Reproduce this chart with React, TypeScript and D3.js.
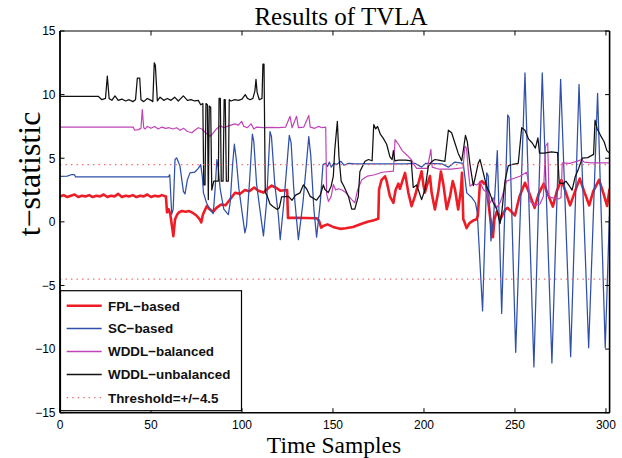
import React from 'react';
import * as d3 from 'd3';

type P = [number, number];

const titleText = 'Results of TVLA';
const xLabel = 'Time Samples';
const yLabel = 't\u2212statistic';
const xTicks = [0, 50, 100, 150, 200, 250, 300];
const yTicks = [-15, -10, -5, 0, 5, 10, 15];
const thresholdValues = [4.5, -4.5];
const legendNames = ['FPL\u2212based', 'SC\u2212based', 'WDDL\u2212balanced', 'WDDL\u2212unbalanced', 'Threshold=+/\u22124.5'];

const fplBased: P[] = [
  [0,2.0],[2,2.1],[4,1.95],[6,2.05],[8,2.15],[10,1.95],[12,2.05],[14,2.0],[16,2.1],[18,1.95],[20,2.05],[22,2.0],[24,2.15],[26,1.95],[28,2.05],[30,2.0],[32,2.2],[34,1.95],[36,2.05],[38,2.0],[40,2.1],[42,1.95],[44,2.05],[46,2.0],[48,2.15],[50,1.95],[52,2.05],[54,2.0],[56,2.1],[58.2,2.0],[58.8,0.75],[59.7,1.0],[60.6,0.6],[61.5,-0.3],[62.3,-1.13],[63.2,0.2],[64.5,0.6],[65.4,0.75],[67,0.85],[69,0.8],[71,0.85],[73,0.7],[75,0.5],[76.9,0.18],[77.6,-0.05],[78.6,0.6],[80.6,1.23],[82.4,0.97],[84.2,0.8],[86,1.1],[88.5,1.36],[91,1.3],[93.4,1.75],[96.2,2.28],[99,2.2],[101.6,2.5],[104,2.4],[106.7,2.7],[109,2.45],[111.8,2.3],[114,2.6],[116.3,2.85],[118.5,2.7],[121,2.45],[124.8,2.5],[125.3,0.31],[130,0.31],[135,0.3],[141,0.28],[142.3,0.1],[143.5,-0.45],[145,-0.3],[147,-0.2],[150,-0.4],[153.9,-0.55],[157,-0.5],[161,-0.4],[165.8,-0.15],[169,0.0],[172,0.1],[174.9,0.25],[175.3,2.54],[176.7,3.3],[178.6,3.58],[179.5,3.2],[181.3,2.0],[183.2,1.5],[184.4,2.5],[185.9,3.0],[186.8,2.6],[187.7,3.0],[189.6,3.85],[191.4,2.3],[193.2,1.23],[195,2.0],[196.9,3.0],[198.7,3.98],[199.6,3.0],[200.5,2.3],[201.5,2.8],[203.3,3.6],[204.2,2.3],[206,0.97],[207.9,2.4],[209.3,3.95],[210.6,3.0],[212.5,1.0],[214.3,2.0],[215.8,3.2],[217,2.6],[218.8,0.97],[220.3,2.5],[220.9,3.85],[221.6,0.2],[222.5,-0.1],[223.4,-0.5],[225,-0.1],[227,0.1],[228.9,0.2],[229.6,0.5],[230.8,3.1],[232,3.2],[233,3.0],[234,3.1],[235,2.0],[236.3,0.44],[237.1,-0.3],[237.9,-1.2],[238.7,0.2],[240,0.8],[241,0.6],[242,0.2],[243,0.5],[244.7,0.97],[246,1.1],[248,0.8],[250,0.5],[252.5,2.0],[255.5,3.07],[258,2.2],[260.8,1.1],[263,2.2],[265.8,3.0],[268,2.2],[270.8,1.2],[273,2.4],[275.5,3.3],[278,2.3],[280.3,1.3],[283,2.4],[285.6,3.4],[288,2.4],[290.8,1.3],[293,2.4],[296.2,3.3],[298.5,2.3],[300.6,1.25],[302,2.6]
];

const scBased: P[] = [
  [0,3.58],[4,3.6],[6.5,3.72],[7.8,3.72],[8.6,3.53],[20,3.53],[40,3.53],[59.5,3.53],[60.3,3.7],[61.4,0.6],[62.2,1.0],[63.2,4.9],[64.1,5.03],[65.9,4.4],[67.8,2.4],[68.7,2.2],[70,3.3],[71.4,3.85],[74,3.9],[76,4.2],[77.3,4.5],[78.2,3.6],[78.8,2.3],[80.5,1.5],[82.4,0.97],[84.2,0.65],[85.2,2.5],[86.2,4.9],[87,4.2],[88,2.6],[90,1.0],[92.5,0.57],[93.5,1.5],[94.9,4.6],[95.8,6.1],[96.8,5.0],[98.3,2.6],[100,0.8],[101.6,-0.87],[102.5,-0.3],[104.3,3.5],[105.7,6.9],[106.5,6.3],[108,3.0],[110,0.8],[111.8,-1.1],[113.5,1.5],[115.4,7.1],[116.2,6.7],[118,3.0],[120,0.5],[121,-1.4],[123,1.5],[126,6.8],[127,6.2],[128.5,2.5],[131,-1.4],[133.5,1.5],[136.7,6.7],[137.8,5.2],[139.5,1.0],[141,-1.2],[143,1.5],[144.5,4.5],[146,4.6],[147,4.35],[148,4.7],[149,4.3],[150.5,4.6],[152,4.5],[154.4,4.76],[156,4.45],[158.6,4.6],[162,4.55],[175,4.56],[190,4.55],[195,4.6],[198.7,4.3],[201,4.6],[210,4.55],[213.4,4.3],[217,4.7],[221.6,4.6],[222.5,3.5],[223.5,2.28],[226.4,1.89],[228.3,1.5],[229.3,0.7],[232.2,-7.0],[234.5,3.85],[235.3,3.6],[236.8,-1.5],[238.3,0.5],[240.3,5.6],[242.7,-7.2],[246,8.4],[246.8,8.2],[250.4,-10.25],[255.5,11.7],[260.4,-11.4],[265,11.7],[270.3,-11.1],[275.1,11.2],[280.6,-10.6],[285.2,10.8],[290.5,-9.9],[295.4,10.1],[299.6,-9.9],[301.9,0.5]
];

const wddlBalanced: P[] = [
  [0,7.44],[20,7.44],[40.3,7.44],[41,7.2],[43,7.25],[44.5,7.35],[45.2,8.83],[46,7.4],[46.8,7.3],[48,7.5],[50,7.35],[52,7.5],[54,7.3],[56,7.45],[58,7.35],[60,7.4],[62,7.3],[64,7.4],[66,7.2],[68,7.35],[70,7.1],[72.5,7.0],[74,7.2],[76,7.4],[78,7.3],[80,7.0],[82.4,6.73],[84,6.95],[86,7.3],[88,7.55],[90,7.4],[92,7.5],[94,7.6],[96,7.7],[98,7.6],[99.8,7.9],[101,7.5],[103,7.4],[105,7.7],[106.5,7.3],[108,7.45],[112,7.4],[116,7.42],[120,7.4],[124,7.45],[126.4,8.3],[127.5,7.4],[130,8.3],[131,7.4],[134,7.45],[136.7,8.36],[137.5,7.44],[140,7.35],[142,7.5],[144,7.4],[146,7.45],[146.5,2.2],[147.5,1.6],[149,2.0],[150.2,2.93],[151.5,2.5],[153,2.6],[155,2.5],[157,2.3],[160.3,1.75],[162,1.5],[163.5,2.5],[165.8,3.3],[169,3.6],[173,3.7],[177,3.9],[183.2,3.98],[184.1,6.47],[186,6.1],[188,5.6],[191,5.2],[193,4.9],[194.5,4.5],[196,4.2],[201.9,4.2],[203.8,5.7],[204.5,4.3],[208,4.15],[215,4.15],[221.5,4.25],[222.5,5.94],[223.4,5.8],[224.3,4.1],[225.3,2.8],[227,3.0],[228.9,2.9],[231,3.1],[232.6,2.54],[234.5,2.3],[236.3,1.5],[238,1.9],[239.9,1.1],[241.8,1.5],[243,2.0],[245.4,3.2],[248,3.35],[252.7,3.58],[256.4,3.9],[257.3,3.2],[258.2,1.62],[261,1.3],[263.7,1.4],[265.6,2.0],[266.8,5.94],[268,6.2],[268.7,2.0],[270.2,1.9],[273.8,1.8],[275.3,1.9],[276,4.64],[280,4.6],[284,4.75],[286.6,4.9],[288,4.7],[292,4.64],[302,4.64]
];

const wddlUnbalanced: P[] = [
  [0,9.87],[21,9.87],[23,9.6],[25,9.7],[26,11.45],[27,9.7],[28.5,9.55],[30.2,9.9],[32,9.55],[34,9.65],[36,9.5],[38,9.6],[40,9.45],[41.5,9.6],[42.5,11.3],[43.8,11.3],[44.5,9.6],[46,9.45],[48,9.7],[50,9.55],[51,9.45],[51.8,12.5],[52.4,12.3],[53.5,9.5],[55,9.8],[57,9.55],[59,9.7],[61,9.55],[63,9.8],[65,9.5],[67.8,9.9],[70,9.55],[72,9.6],[74,9.5],[76,9.55],[77.3,9.2],[78.5,9.3],[79,2.9],[79.7,2.9],[80.2,9.3],[81,9.2],[81.5,1.75],[82,9.1],[82.8,9.0],[83.4,2.5],[84.5,3.2],[87,3.2],[87.4,9.7],[88.1,9.7],[88.6,3.2],[89.6,3.2],[90.2,9.6],[90.8,9.6],[91.4,3.2],[92.5,3.2],[93,9.6],[94,9.5],[96,9.6],[98,9.55],[100,9.65],[101.8,10.0],[103,9.7],[104.5,9.6],[106,9.7],[107.1,10.3],[107.7,11.2],[108.3,10.2],[109.5,9.6],[111,9.7],[111.5,12.4],[112.1,12.4],[112.8,2.3],[113.7,2.1],[115.4,1.4],[117,1.2],[119.4,0.97],[120.5,1.1],[121.8,1.97],[125.5,2.0],[127.5,1.7],[129.5,2.1],[131.9,2.28],[133.7,2.9],[135.5,2.6],[137.5,2.0],[141,1.7],[143,2.1],[144.7,2.9],[145.6,2.54],[147.4,2.3],[149,2.8],[150.2,3.6],[151,5.7],[152.4,7.9],[153.3,5.1],[154.5,3.2],[156,2.8],[158.5,2.0],[160.3,1.0],[162,1.0],[163.9,2.0],[164.8,3.96],[167.6,4.76],[169.5,4.9],[171.5,4.8],[172.4,7.65],[173.5,7.3],[174.5,7.5],[176,6.9],[177.5,6.6],[179.5,6.1],[181.3,5.1],[182.5,4.9],[183.2,5.6],[184,4.8],[186,4.85],[190,4.85],[193,4.8],[194.1,2.7],[196,2.9],[198.7,1.75],[200.5,2.5],[202.4,4.36],[204,4.7],[206,4.9],[208,4.85],[211.5,4.76],[213.4,7.2],[215.2,7.0],[217,6.2],[218.8,5.4],[220.7,4.8],[221.5,5.5],[222.8,6.8],[223.8,6.3],[225.3,4.5],[227.1,2.85],[228.3,3.6],[229.8,4.6],[230.8,4.9],[232,4.2],[234.4,2.8],[236.3,2.2],[238.1,1.5],[240,1.0],[241.8,-0.15],[242.8,0.8],[244.5,3.2],[246.3,4.4],[248,4.5],[251.8,4.6],[253.7,7.4],[255.5,7.2],[257.5,6.5],[259.5,6.2],[261.2,5.8],[262.6,6.6],[263.5,5.4],[266,5.4],[270,5.5],[273.4,5.45],[274.3,3.07],[276.5,3.0],[278,3.2],[280,2.8],[281.4,2.5],[283,3.5],[285,4.2],[287,5.0],[290,5.05],[293.2,5.3],[294,8.0],[295.2,7.3],[297,6.8],[299,6.3],[300.5,5.6],[302,5.4]
];

const seriesColors = ['#ee1c25', '#2f4fa9', '#c044b8', '#111111'];
const seriesWidths = [2.6, 1.25, 1.2, 1.25];
const thresholdColor = '#f26a6a';

export default function App() {
  const W = 622;
  const H = 458;
  const left = 60, right = 609.6, top = 31, bottom = 412.7;
  const x = d3.scaleLinear().domain([0, 302]).range([left, right]);
  const y = d3.scaleLinear().domain([-15, 15]).range([bottom, top]);
  const line = d3.line<P>().x(d => x(d[0])).y(d => y(d[1])).curve(d3.curveLinear);
  const series = [fplBased, scBased, wddlBalanced, wddlUnbalanced];
  const sans = '"Liberation Sans", Arial, Helvetica, sans-serif';
  const serif = '"Liberation Serif", "Times New Roman", serif';
  const tickLen = 4.5;

  const legX = 60.5, legY = 290.7, legW = 181, legH = 120;
  const legRows = [305.7, 328.5, 351.5, 374.5, 397.7];

  return (
    <svg width={W} height={H} style={{ position: 'absolute', left: 0, top: 0, background: '#fff' }}>
      <defs>
        <clipPath id="plotclip">
          <rect x={left} y={top} width={right - left} height={bottom - top} />
        </clipPath>
      </defs>
      <rect x={0} y={0} width={W} height={H} fill="#fff" />
      <g clipPath="url(#plotclip)">
        {series.map((s, i) => (
          <path key={i} d={line(s) || ''} fill="none" stroke={seriesColors[i]} strokeWidth={seriesWidths[i]} strokeLinejoin="round" />
        ))}
        {thresholdValues.map((t, i) => (
          <line key={i} x1={left} x2={right} y1={y(t)} y2={y(t)} stroke={thresholdColor} strokeWidth={1.3} strokeDasharray="1.4 4.1" />
        ))}
      </g>
      <line x1={left} x2={right} y1={top} y2={top} stroke="#000" strokeWidth={1} />
      <line x1={left} x2={right} y1={bottom} y2={bottom} stroke="#000" strokeWidth={1.6} />
      <line x1={left} x2={left} y1={top} y2={bottom} stroke="#000" strokeWidth={1.8} />
      <line x1={right} x2={right} y1={top} y2={bottom} stroke="#000" strokeWidth={1.6} />
      {xTicks.map(t => (
        <g key={'x' + t}>
          <line x1={x(t)} x2={x(t)} y1={bottom} y2={bottom - tickLen} stroke="#000" strokeWidth={1} />
          <line x1={x(t)} x2={x(t)} y1={top} y2={top + tickLen} stroke="#000" strokeWidth={1} />
          <text x={x(t)} y={429} textAnchor="middle" fontFamily={sans} fontSize={12} fill="#000">{String(t)}</text>
        </g>
      ))}
      {yTicks.map(t => (
        <g key={'y' + t}>
          <line x1={left} x2={left + tickLen} y1={y(t)} y2={y(t)} stroke="#000" strokeWidth={1} />
          <line x1={right} x2={right - tickLen} y1={y(t)} y2={y(t)} stroke="#000" strokeWidth={1} />
          <text x={55.5} y={y(t) + 4.3} textAnchor="end" fontFamily={sans} fontSize={12} fill="#000">{t < 0 ? '\u2212' + Math.abs(t) : String(t)}</text>
        </g>
      ))}
      <rect x={legX} y={legY} width={legW} height={legH} fill="#fff" stroke="#000" strokeWidth={1.2} />
      {legendNames.map((name, i) => (
        <g key={name}>
          {i < 4 ? (
            <line x1={66.7} x2={101.7} y1={legRows[i]} y2={legRows[i]} stroke={seriesColors[i]} strokeWidth={seriesWidths[i] + (i > 0 ? 0.3 : 0)} />
          ) : (
            <line x1={66.7} x2={101.7} y1={legRows[i]} y2={legRows[i]} stroke={thresholdColor} strokeWidth={1.3} strokeDasharray="1.4 4.1" />
          )}
          <text x={108} y={legRows[i] + 4.8} fontFamily={sans} fontWeight="bold" fontSize={13.4} fill="#111">{name}</text>
        </g>
      ))}
      <text x={341} y={25} textAnchor="middle" fontFamily={serif} fontSize={25} fill="#000">{titleText}</text>
      <text x={334} y={452.5} textAnchor="middle" fontFamily={serif} fontSize={23.5} fill="#000">{xLabel}</text>
      <text transform="translate(40,174) rotate(-90)" textAnchor="middle" fontFamily={serif} fontSize={32} fill="#000">{yLabel}</text>
    </svg>
  );
}
